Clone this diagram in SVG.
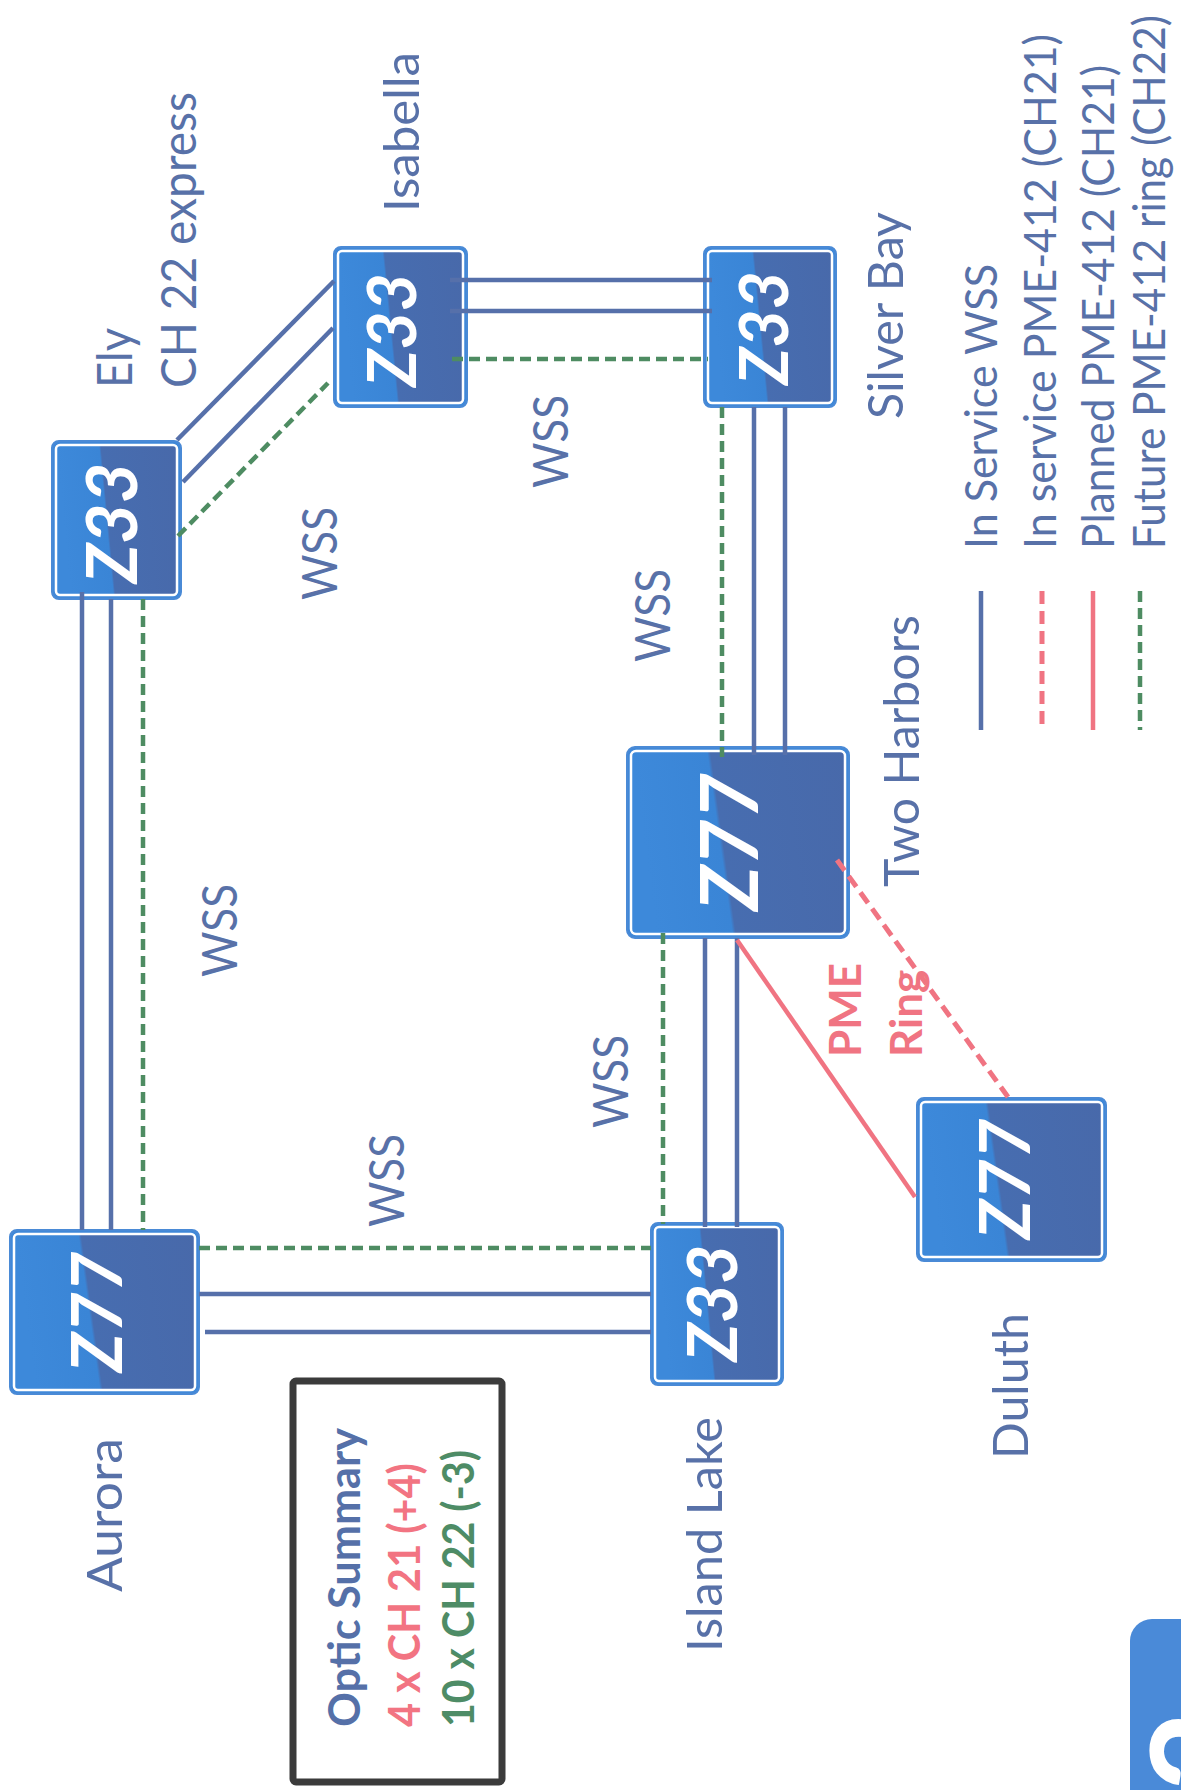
<svg xmlns="http://www.w3.org/2000/svg" width="1181" height="1790" viewBox="0 0 1181 1790">
<defs>
<linearGradient id="split" x1="0" y1="0" x2="1" y2="-0.12">
<stop offset="0" stop-color="#3d89da"/>
<stop offset="0.35" stop-color="#3a85d6"/>
<stop offset="0.365" stop-color="#476db0"/>
<stop offset="1" stop-color="#4869aa"/>
</linearGradient>
<style>
.frame{fill:#4088d8;stroke:#4a8ad6;stroke-width:2}
.inner{fill:url(#split);stroke:#ffffff;stroke-width:2.5}
.z{font-family:Lato,"Liberation Sans",sans-serif;font-weight:bold;font-style:italic;fill:#ffffff;text-anchor:middle}
.lbl{font-family:Lato,"Liberation Sans",sans-serif;font-size:48px;fill:#5871a8}
.leg{font-family:Lato,"Liberation Sans",sans-serif;font-size:45px;fill:#5871a8}
.bold{font-family:Lato,"Liberation Sans",sans-serif;font-weight:bold;font-size:44px}
.b{stroke:#5670aa;stroke-width:4.5;fill:none}
.g{stroke:#4e8c62;stroke-width:4.5;stroke-dasharray:11 6;fill:none}
.r{stroke:#f07482;stroke-width:4.5;fill:none}
.rd{stroke:#f07482;stroke-width:5;stroke-dasharray:13 7;fill:none}
</style>
</defs>
<rect width="1181" height="1790" fill="#ffffff"/>

<g id="ely">
<rect class="frame" x="52" y="441" width="129" height="158" rx="7"/>
<rect class="inner" x="56" y="445" width="121" height="150" rx="4"/>
<text class="z" font-size="70" transform="translate(137,523) rotate(-90)">Z33</text>
<text class="lbl" textLength="60" lengthAdjust="spacingAndGlyphs" transform="translate(132,388) rotate(-90)">Ely</text>
<text class="lbl" textLength="296" lengthAdjust="spacingAndGlyphs" transform="translate(196,388) rotate(-90)">CH 22 express</text>
</g>

<g id="isabella">
<rect class="frame" x="334" y="247" width="133" height="160" rx="7"/>
<rect class="inner" x="338" y="251" width="125" height="152" rx="4"/>
<text class="z" font-size="66" transform="translate(416,330) rotate(-90)">Z33</text>
<text class="lbl" textLength="160" lengthAdjust="spacingAndGlyphs" transform="translate(419,212) rotate(-90)">Isabella</text>
</g>

<g id="silver-bay">
<rect class="frame" x="704" y="247" width="132" height="160" rx="7"/>
<rect class="inner" x="708" y="251" width="124" height="152" rx="4"/>
<text class="z" font-size="66" transform="translate(788,328) rotate(-90)">Z33</text>
<text class="lbl" textLength="207" lengthAdjust="spacingAndGlyphs" transform="translate(903,419) rotate(-90)">Silver Bay</text>
</g>

<g id="two-harbors">
<rect class="frame" x="627" y="747" width="222" height="191" rx="8"/>
<rect class="inner" x="631" y="751" width="214" height="183" rx="5"/>
<text class="z" font-size="80" transform="translate(758,842) rotate(-90)">Z77</text>
<text class="lbl" textLength="272" lengthAdjust="spacingAndGlyphs" transform="translate(919,887) rotate(-90)">Two Harbors</text>
</g>

<g id="duluth">
<rect class="frame" x="917" y="1098" width="189" height="163" rx="7"/>
<rect class="inner" x="921" y="1102" width="181" height="155" rx="4"/>
<text class="z" font-size="70" transform="translate(1030,1179) rotate(-90)">Z77</text>
<text class="lbl" textLength="146" lengthAdjust="spacingAndGlyphs" transform="translate(1028,1459) rotate(-90)">Duluth</text>
</g>

<g id="island-lake">
<rect class="frame" x="651" y="1223" width="132" height="162" rx="7"/>
<rect class="inner" x="655" y="1227" width="124" height="154" rx="4"/>
<text class="z" font-size="68" transform="translate(737,1303) rotate(-90)">Z33</text>
<text class="lbl" textLength="235" lengthAdjust="spacingAndGlyphs" transform="translate(722,1652) rotate(-90)">Island Lake</text>
</g>

<g id="aurora">
<rect class="frame" x="10" y="1230" width="189" height="164" rx="7"/>
<rect class="inner" x="14" y="1234" width="181" height="156" rx="4"/>
<text class="z" font-size="70" transform="translate(122,1312) rotate(-90)">Z77</text>
<text class="lbl" textLength="154" lengthAdjust="spacingAndGlyphs" transform="translate(122,1592) rotate(-90)">Aurora</text>
</g>

<g id="connectors">
<line class="b" x1="82" y1="592" x2="82" y2="1230"/>
<line class="b" x1="111" y1="599" x2="111" y2="1230"/>
<line class="g" x1="143" y1="599" x2="143" y2="1230"/>
<line class="b" x1="177" y1="440" x2="334" y2="281"/>
<line class="b" x1="183" y1="482" x2="333" y2="328"/>
<line class="g" x1="178" y1="536" x2="328" y2="383"/>
<line class="b" x1="450" y1="280" x2="712" y2="280"/>
<line class="b" x1="450" y1="311" x2="712" y2="311"/>
<line class="g" x1="452" y1="359" x2="708" y2="359"/>
<line class="g" x1="722" y1="407" x2="722" y2="757"/>
<line class="b" x1="754" y1="407" x2="754" y2="755"/>
<line class="b" x1="785" y1="407" x2="785" y2="755"/>
<line class="g" x1="663" y1="933" x2="663" y2="1224"/>
<line class="b" x1="705" y1="938" x2="705" y2="1227"/>
<line class="b" x1="737" y1="938" x2="737" y2="1227"/>
<line class="g" x1="199" y1="1248" x2="651" y2="1248"/>
<line class="b" x1="199" y1="1294" x2="651" y2="1294"/>
<line class="b" x1="205" y1="1332" x2="651" y2="1332"/>
<line class="r" x1="737" y1="940" x2="915" y2="1197"/>
<line class="rd" x1="837" y1="860" x2="1008" y2="1097"/>
</g>

<g id="wss-labels">
<text class="lbl" textLength="93" lengthAdjust="spacingAndGlyphs" transform="translate(337,600) rotate(-90)">WSS</text>
<text class="lbl" textLength="93" lengthAdjust="spacingAndGlyphs" transform="translate(568,488) rotate(-90)">WSS</text>
<text class="lbl" textLength="93" lengthAdjust="spacingAndGlyphs" transform="translate(670,662) rotate(-90)">WSS</text>
<text class="lbl" textLength="93" lengthAdjust="spacingAndGlyphs" transform="translate(237,977) rotate(-90)">WSS</text>
<text class="lbl" textLength="93" lengthAdjust="spacingAndGlyphs" transform="translate(404,1227) rotate(-90)">WSS</text>
<text class="lbl" textLength="93" lengthAdjust="spacingAndGlyphs" transform="translate(628,1128) rotate(-90)">WSS</text>
</g>

<g id="pme-ring">
<text class="bold" font-size="46" fill="#f07482" transform="translate(861,1057) rotate(-90)">PME</text>
<text class="bold" font-size="46" fill="#f07482" transform="translate(922,1057) rotate(-90)">Ring</text>
</g>

<g id="legend">
<line class="b" x1="981" y1="591" x2="981" y2="730"/>
<line class="rd" x1="1042" y1="591" x2="1042" y2="730"/>
<line class="r" x1="1093" y1="591" x2="1093" y2="730"/>
<line class="g" x1="1140" y1="591" x2="1140" y2="730"/>
<text class="leg" textLength="285" lengthAdjust="spacingAndGlyphs" transform="translate(997,549) rotate(-90)">In Service WSS</text>
<text class="leg" textLength="515" lengthAdjust="spacingAndGlyphs" transform="translate(1056,549) rotate(-90)">In service PME-412 (CH21)</text>
<text class="leg" textLength="484" lengthAdjust="spacingAndGlyphs" transform="translate(1114,549) rotate(-90)">Planned PME-412 (CH21)</text>
<text class="leg" font-size="43" textLength="534" lengthAdjust="spacingAndGlyphs" transform="translate(1165,549) rotate(-90)">Future PME-412 ring (CH22)</text>
</g>

<g id="optic-summary">
<rect x="293" y="1381" width="209" height="401" rx="3" fill="#ffffff" stroke="#3b3b3b" stroke-width="7"/>
<text class="bold" fill="#5570a8" textLength="299" lengthAdjust="spacingAndGlyphs" transform="translate(360,1727) rotate(-90)">Optic Summary</text>
<text class="bold" fill="#f27482" textLength="264" lengthAdjust="spacingAndGlyphs" transform="translate(420,1727) rotate(-90)">4 x CH 21 (+4)</text>
<text class="bold" fill="#4e8c66" textLength="277" lengthAdjust="spacingAndGlyphs" transform="translate(474,1727) rotate(-90)">10 x CH 22 (-3)</text>
</g>

<g id="badge">
<rect x="1130" y="1619" width="90" height="220" rx="22" fill="#4a8ad8"/>
<text font-family="Lato, 'Liberation Sans', sans-serif" font-weight="bold" font-size="140" fill="#ffffff" transform="translate(1252,1792) rotate(-90)">2</text>
</g>
</svg>
